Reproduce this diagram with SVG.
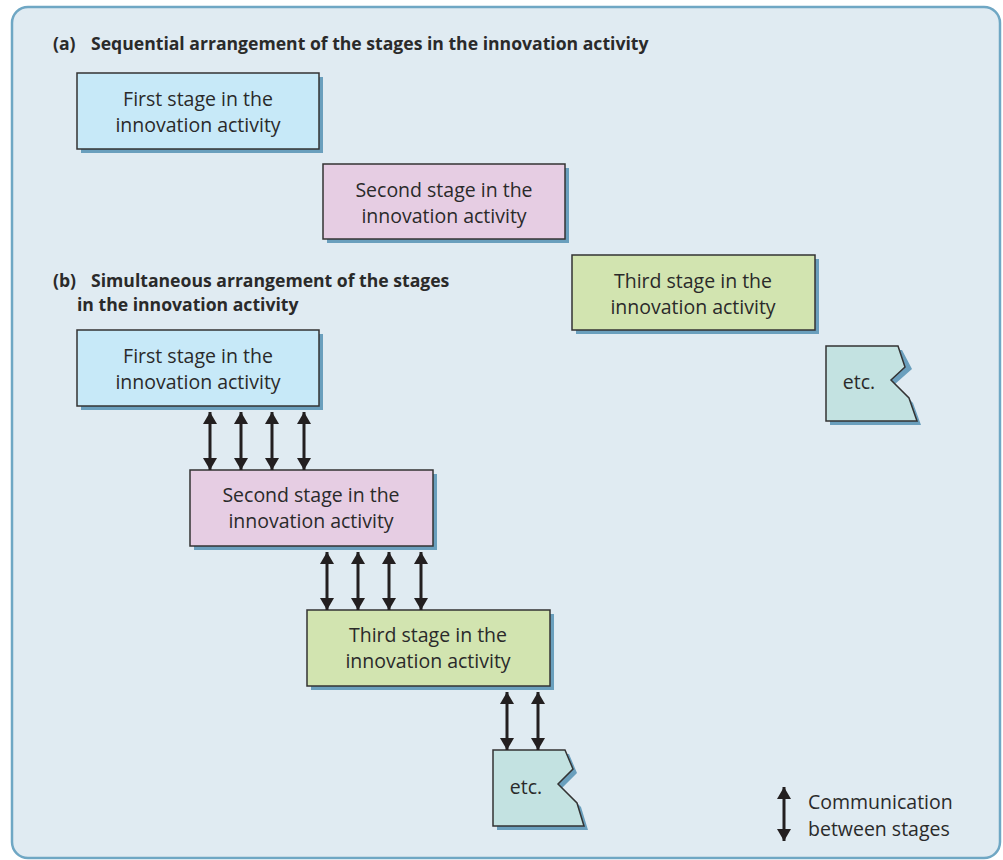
<svg xmlns="http://www.w3.org/2000/svg" width="1003" height="860" viewBox="0 0 1003 860">
<defs>
<style>
.panel{fill:#e0ebf2;stroke:#6fa7c4;stroke-width:2.5}
.shadow{fill:#6a9fbd}
.box{stroke:#333;stroke-width:1.5}
.s1{fill:#c7e9f8}
.s2{fill:#e6cde3}
.s3{fill:#d2e4b0}
.s4{fill:#c3e2e1}
.t{font-family:"Open Sans",sans-serif;font-size:19.5px;fill:#2a2a2a;text-anchor:middle}
.h{font-family:"Open Sans",sans-serif;font-size:17.6px;font-weight:bold;fill:#2a2a2a}
.lg{font-family:"Open Sans",sans-serif;font-size:19.5px;fill:#2a2a2a}
.arr{stroke:#231f20;stroke-width:3;fill:none;marker-start:url(#ah);marker-end:url(#ah)}
</style>
<marker id="ah" viewBox="0 0 12 14" refX="12" refY="7" markerWidth="12" markerHeight="14" markerUnits="userSpaceOnUse" orient="auto-start-reverse">
<path d="M0,0 L12,7 L0,14 Z" fill="#231f20"/>
</marker>
</defs>
<rect class="panel" x="12" y="7" width="988" height="851" rx="16"/>
<text class="h" x="53" y="50">(a)</text>
<text class="h" x="91" y="50">Sequential arrangement of the stages in the innovation activity</text>
<text class="h" x="53" y="287">(b)</text>
<text class="h" x="91" y="287">Simultaneous arrangement of the stages</text>
<text class="h" x="77" y="311">in the innovation activity</text>

<g id="a1">
<rect class="shadow" x="81" y="77" width="242" height="76"/>
<rect class="box s1" x="77" y="73" width="242" height="76"/>
<text class="t" x="198" y="106">First stage in the</text>
<text class="t" x="198" y="132">innovation activity</text>
</g>
<g id="a2">
<rect class="shadow" x="327" y="168" width="242" height="75"/>
<rect class="box s2" x="323" y="164" width="242" height="75"/>
<text class="t" x="444" y="197">Second stage in the</text>
<text class="t" x="444" y="223">innovation activity</text>
</g>
<g id="a3">
<rect class="shadow" x="576" y="259" width="243" height="75"/>
<rect class="box s3" x="572" y="255" width="243" height="75"/>
<text class="t" x="693" y="288">Third stage in the</text>
<text class="t" x="693" y="314">innovation activity</text>
</g>
<g id="a4">
<path class="shadow" d="M830,350 L902,350 L912,369 L895,384 L913,403 L921,425 L830,425 Z"/>
<path class="box s4" d="M826,346 L898,346 L905,367 L891,380 L909,398 L917,421 L826,421 Z"/>
<text class="t" x="859" y="389">etc.</text>
</g>

<g id="b1">
<rect class="shadow" x="81" y="334" width="242" height="76"/>
<rect class="box s1" x="77" y="330" width="242" height="76"/>
<text class="t" x="198" y="363">First stage in the</text>
<text class="t" x="198" y="389">innovation activity</text>
</g>
<g id="b2">
<rect class="shadow" x="194" y="474" width="243" height="76"/>
<rect class="box s2" x="190" y="470" width="243" height="76"/>
<text class="t" x="311" y="502">Second stage in the</text>
<text class="t" x="311" y="528">innovation activity</text>
</g>
<g id="b3">
<rect class="shadow" x="311" y="614" width="243" height="76"/>
<rect class="box s3" x="307" y="610" width="243" height="76"/>
<text class="t" x="428" y="642">Third stage in the</text>
<text class="t" x="428" y="668">innovation activity</text>
</g>
<g id="b4">
<path class="shadow" d="M497,754 L569,754 L577,773 L562,788 L581,807 L588,830 L497,830 Z"/>
<path class="box s4" d="M493,750 L565,750 L573,769 L558,784 L577,803 L584,826 L493,826 Z"/>
<text class="t" x="526" y="794">etc.</text>
</g>

<g id="connectors">
<line class="arr" x1="210" y1="412" x2="210" y2="470"/>
<line class="arr" x1="241" y1="412" x2="241" y2="470"/>
<line class="arr" x1="272" y1="412" x2="272" y2="470"/>
<line class="arr" x1="304" y1="412" x2="304" y2="470"/>
<line class="arr" x1="327" y1="552" x2="327" y2="610"/>
<line class="arr" x1="358" y1="552" x2="358" y2="610"/>
<line class="arr" x1="389" y1="552" x2="389" y2="610"/>
<line class="arr" x1="421" y1="552" x2="421" y2="610"/>
<line class="arr" x1="507" y1="692" x2="507" y2="750"/>
<line class="arr" x1="538" y1="692" x2="538" y2="750"/>
</g>

<g id="legend">
<line class="arr" x1="784" y1="787" x2="784" y2="841"/>
<text class="lg" x="808" y="809">Communication</text>
<text class="lg" x="808" y="836">between stages</text>
</g>
</svg>
